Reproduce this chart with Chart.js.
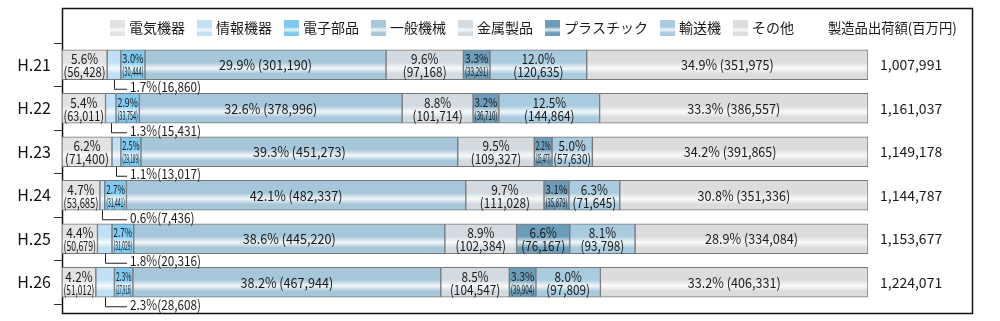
<!DOCTYPE html>
<html>
<head>
<meta charset="utf-8">
<script src="https://cdn.jsdelivr.net/npm/chart.js@4/dist/chart.umd.min.js"></script>
<style>
  html, body { margin: 0; padding: 0; background: #fff; }
  #wrap { width: 1000px; height: 321px; }
</style>
</head>
<body>
<div id="wrap"><canvas id="chart"></canvas></div>
<script>
const years = ['H.21', 'H.22', 'H.23', 'H.24', 'H.25', 'H.26']
const categories = ['電気機器', '情報機器', '電子部品', '一般機械', '金属製品', 'プラスチック', '輸送機', 'その他']

// 出荷額 (百万円)
const denki = [56428, 63011, 71400, 53685, 50679, 51012]
const joho = [16860, 15431, 13017, 7436, 20316, 28608]
const denshi = [30444, 33754, 29189, 31441, 31029, 27916]
const ippan = [301190, 378996, 451273, 482337, 445220, 467944]
const kinzoku = [97168, 101714, 109327, 111028, 102384, 104547]
const plastic = [33291, 36710, 25477, 35879, 76167, 39904]
const yuso = [120635, 144864, 57630, 71645, 93798, 97809]
const sonota = [351975, 386557, 391865, 351336, 334084, 406331]
const totals = [1007991, 1161037, 1149178, 1144787, 1153677, 1224071]

// 構成比 (%)
const denkiPct = [5.6, 5.4, 6.2, 4.7, 4.4, 4.2]
const johoPct = [1.7, 1.3, 1.1, 0.6, 1.8, 2.3]
const denshiPct = [3.0, 2.9, 2.5, 2.7, 2.7, 2.3]
const ippanPct = [29.9, 32.6, 39.3, 42.1, 38.6, 38.2]
const kinzokuPct = [9.6, 8.8, 9.5, 9.7, 8.9, 8.5]
const plasticPct = [3.3, 3.2, 2.2, 3.1, 6.6, 3.3]
const yusoPct = [12.0, 12.5, 5.0, 6.3, 8.1, 8.0]
const sonotaPct = [34.9, 33.3, 34.2, 30.8, 28.9, 33.2]

const colors = ['#e2e2e2', '#bfe0f5', '#7fc8ef', '#a6c6da', '#d3dbe1', '#6b9cb9', '#a9cbe0', '#dcdcdc']
const values = [denki, joho, denshi, ippan, kinzoku, plastic, yuso, sonota]
const pcts = [denkiPct, johoPct, denshiPct, ippanPct, kinzokuPct, plasticPct, yusoPct, sonotaPct]

const FONT = "'Noto Sans CJK JP', 'Noto Sans', sans-serif"
const BAR = 30
const SQUEEZE = 0.84

function mix(hex, t) {
    let n = parseInt(hex.slice(1), 16)
    let r = n >> 16, g = (n >> 8) & 255, b = n & 255
    r = Math.round(r + (255 - r) * t)
    g = Math.round(g + (255 - g) * t)
    b = Math.round(b + (255 - b) * t)
    return `rgb(${r},${g},${b})`
}

function makeGrad(ctx, top, bottom, base) {
    const g = ctx.createLinearGradient(0, top, 0, bottom)
    g.addColorStop(0, base)
    g.addColorStop(0.42, base)
    g.addColorStop(0.62, mix(base, 0.85))
    g.addColorStop(0.8, base)
    g.addColorStop(1, base)
    return g
}

function fmt(n) {
    return n.toLocaleString('en-US')
}

// condensed text, squeezed further if it would not fit maxW
function fitText(ctx, txt, x, y, maxW, squeeze) {
    const sq = squeeze || SQUEEZE
    const w = ctx.measureText(txt).width * sq
    let sx = sq
    if (maxW && w > maxW) sx = sq * maxW / w
    ctx.save()
    ctx.translate(x, y)
    ctx.scale(sx, 1)
    ctx.fillText(txt, 0, 0)
    ctx.restore()
}

const labelPlugin = {
    id: 'labels',
    beforeDraw(chart) {
        const ctx = chart.ctx
        ctx.save()
        ctx.strokeStyle = '#111'
        ctx.lineWidth = 1.5
        ctx.strokeRect(62.5, 8.5, 910, 305)
        ctx.restore()
    },
    afterDraw(chart) {
        const ctx = chart.ctx
        ctx.save()
        ctx.fillStyle = '#1a1a1a'
        ctx.textBaseline = 'middle'

        // legend
        let x = 110
        const ly = 28
        ctx.font = '14px ' + FONT
        ctx.textAlign = 'left'
        categories.forEach((c, i) => {
            ctx.fillStyle = makeGrad(ctx, ly - 8, ly + 8, colors[i])
            ctx.fillRect(x, ly - 8, 15, 16)
            ctx.fillStyle = '#1a1a1a'
            ctx.fillText(c, x + 19, ly)
            x += 19 + ctx.measureText(c).width + 12
        })
        fitText(ctx, '製造品出荷額(百万円)', 828, ly, null, 0.95)

        // segment labels
        chart.data.datasets.forEach((ds, di) => {
            const meta = chart.getDatasetMeta(di)
            meta.data.forEach((el, i) => {
                const p = el.getProps(['x', 'y', 'base', 'height'], true)
                const left = Math.min(p.x, p.base), right = Math.max(p.x, p.base)
                const w = right - left
                const cx = (left + right) / 2
                const pct = pcts[di][i].toFixed(1) + '%'
                const val = '(' + fmt(values[di][i]) + ')'
                ctx.fillStyle = '#1a1a1a'
                ctx.textAlign = 'center'
                if (di === 1) {
                    const bot = p.y + BAR / 2
                    ctx.strokeStyle = '#222'
                    ctx.lineWidth = 1
                    ctx.beginPath()
                    ctx.moveTo(Math.round(cx) + 0.5, bot)
                    ctx.lineTo(Math.round(cx) + 0.5, bot + 9.5)
                    ctx.lineTo(127, bot + 9.5)
                    ctx.stroke()
                    ctx.textAlign = 'left'
                    ctx.font = '14px ' + FONT
                    fitText(ctx, pct + val, 130, bot + 7)
                } else if (di === 3 || di === 7) {
                    ctx.font = '14px ' + FONT
                    fitText(ctx, pct + ' ' + val, cx, p.y, null, 0.9)
                } else {
                    ctx.font = (w >= 30 ? '14px ' : '12px ') + FONT
                    fitText(ctx, pct, cx, p.y - 6, w - 3)
                    fitText(ctx, val, cx, p.y + 7, w - 3)
                }
            })
        })

        // totals column
        ctx.textAlign = 'left'
        ctx.font = '14px ' + FONT
        const ys = chart.scales.y
        totals.forEach((t, i) => {
            ctx.fillText(fmt(t), 880, ys.getPixelForValue(i))
        })
        ctx.restore()
    }
}

const ctx = document.getElementById('chart').getContext('2d')
const chart = new Chart(ctx, {
    type: 'bar',
    data: {
        labels: years,
        datasets: categories.map((c, i) => ({
            label: c,
            data: pcts[i],
            backgroundColor: (c2) => {
                const ys = c2.chart.scales.y
                if (!ys || c2.dataIndex === undefined) return colors[i]
                const y = ys.getPixelForValue(c2.dataIndex)
                if (!isFinite(y)) return colors[i]
                return makeGrad(c2.chart.ctx, y - BAR / 2, y + BAR / 2, colors[i])
            },
            borderColor: '#777',
            borderWidth: 1,
            borderSkipped: false,
            barThickness: BAR
        }))
    },
    options: {
        indexAxis: 'y',
        responsive: true,
        maintainAspectRatio: false,
        animation: false,
        layout: { padding: { left: 0, right: 132, top: 43, bottom: 17 } },
        plugins: {
            legend: { display: false },
            tooltip: { enabled: false }
        },
        scales: {
            x: { stacked: true, display: false, min: 0, max: 100 },
            y: {
                stacked: true,
                afterFit: (s) => { s.width = 62 },
                border: { display: false },
                grid: { drawOnChartArea: false, drawTicks: true, tickLength: 8, color: '#333' },
                ticks: { color: '#111', padding: 3, font: { size: 16, family: FONT } }
            }
        }
    },
    plugins: [labelPlugin]
})
</script>
</body>
</html>
